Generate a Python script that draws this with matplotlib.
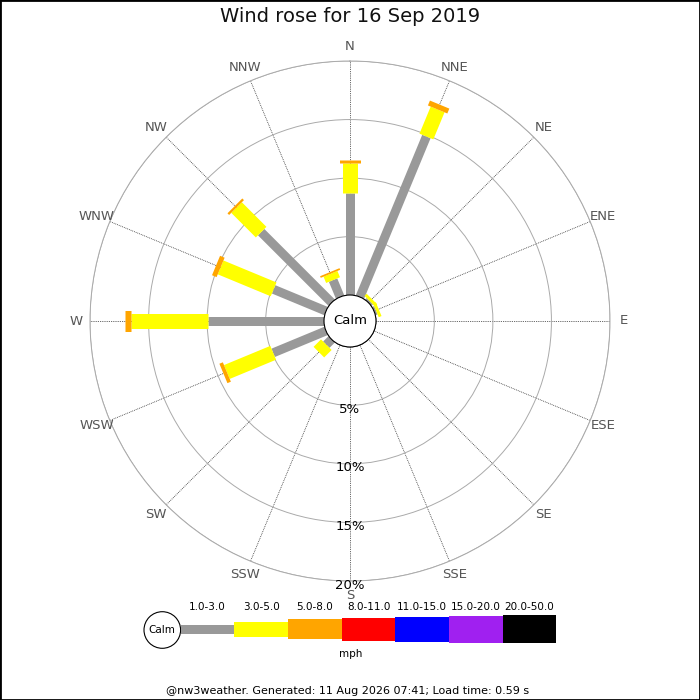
import numpy as np
import matplotlib
matplotlib.use('Agg')
from matplotlib import pyplot as plt
from matplotlib.patches import Circle, Rectangle

directions = ['N', 'NNE', 'NE', 'ENE', 'E', 'ESE', 'SE', 'SSE',
              'S', 'SSW', 'SW', 'WSW', 'W', 'WNW', 'NW', 'NNW']

# % of the day per direction, one list per speed bin (mph)
pct_1_3 = [8.76, 14.85, 0.19, 0.19, 0, 0, 0, 0, 0, 0, 0.66, 4.9, 9.93, 4.86, 8.53, 1.58]
pct_3_5 = [2.56, 2.5, 0.26, 0.26, 0, 0, 0, 0, 0, 0, 0.9, 4.28, 6.57, 4.9, 2.97, 0.58]
pct_5_8 = [0.2, 0.45, 0, 0, 0, 0, 0, 0, 0, 0, 0, 0.32, 0.5, 0.42, 0.2, 0.15]

rings = [5, 10, 15, 20]

speed_bins = ['1.0-3.0', '3.0-5.0', '5.0-8.0', '8.0-11.0',
              '11.0-15.0', '15.0-20.0', '20.0-50.0']
bin_colours = ['#999999', '#ffff00', '#ffa500', '#ff0000',
               '#0000ff', '#a020f0', '#000000']
bar_px = [9, 15, 21]               # bar thickness on the rose, pixels
legend_px = [9, 15, 20, 23, 25, 27, 28]

title = 'Wind rose for 16 Sep 2019'
footer = '@nw3weather. Generated: 11 Aug 2026 07:41; Load time: 0.59 s'

fig = plt.figure(figsize=(7, 7), dpi=100)
fig.patch.set_facecolor('white')

# rose: centre at (350, 321) px, outer ring radius 260 px
ax = fig.add_axes([90 / 700, 119 / 700, 520 / 700, 520 / 700], projection='polar')
ax.set_theta_zero_location('N')
ax.set_theta_direction(-1)
ax.set_ylim(0, 20)
ax.set_rorigin(-2.2)

theta = np.deg2rad(np.arange(16) * 22.5)
ax.set_thetagrids(np.arange(16) * 22.5, labels=[''] * 16)
ax.set_rgrids(rings, labels=[''] * len(rings))
ax.xaxis.grid(True, color='#333333', linestyle=(0, (1, 1.2)), linewidth=0.6)
ax.yaxis.grid(True, color='#aaaaaa', linestyle='-', linewidth=0.7)
ax.spines['polar'].set_color('#aaaaaa')
ax.spines['polar'].set_linewidth(0.7)
ax.spines['inner'].set_visible(False)
ax.tick_params(length=0)

stack = [pct_1_3, pct_3_5, pct_5_8]
base = np.zeros(16)
for k, vals in enumerate(stack):
    top = base + np.array(vals)
    for i in range(16):
        if vals[i] > 0:
            ax.plot([theta[i], theta[i]], [base[i], top[i]], color=bin_colours[k],
                    lw=bar_px[k] * 0.72, solid_capstyle='butt', zorder=3 + k)
    base = top

for i, d in enumerate(directions):
    ax.text(theta[i], 21.2, d, ha='center', va='center', fontsize=9.5, color='#555555')

for r in rings:
    ax.text(np.pi, r + 0.35, '{}%'.format(r), ha='center', va='center',
            fontsize=9.5, color='k', zorder=12)

calm = Circle((0.5, 0.5), 26 / 520, transform=ax.transAxes, facecolor='white',
              edgecolor='k', lw=0.8, zorder=10, clip_on=False)
ax.add_artist(calm)
ax.text(0.5, 0.5, 'Calm', transform=ax.transAxes, ha='center', va='center',
        fontsize=9.5, zorder=11)

fig.text(0.5, 1 - 17 / 700, title, ha='center', va='center', fontsize=14, color='#111111')

# legend strip, in pixel units
leg = fig.add_axes([0, 0, 1, 110 / 700])
leg.set_xlim(0, 700)
leg.set_ylim(700, 590)
leg.axis('off')
leg.add_patch(Circle((162.3, 630), 18.3, facecolor='white', edgecolor='k', lw=0.8))
leg.text(162.3, 630, 'Calm', ha='center', va='center', fontsize=7.5)
lefts = 180.5 + np.arange(len(speed_bins)) * 53.7
leg.bar(lefts, legend_px, width=53.7, bottom=629 - np.array(legend_px) / 2,
        color=bin_colours, align='edge', linewidth=0)
for x, lab in zip(lefts, speed_bins):
    leg.text(x + 26.85, 606.5, lab, ha='center', va='center', fontsize=7.5)
leg.text(350.5, 654, 'mph', ha='center', va='center', fontsize=7.5)
leg.text(347.5, 691, footer, ha='center', va='center', fontsize=8)

fig.add_artist(Rectangle((0, 0), 1, 1, transform=fig.transFigure, fill=False,
                         edgecolor='k', lw=2))

fig.savefig('out.png', dpi=100)
